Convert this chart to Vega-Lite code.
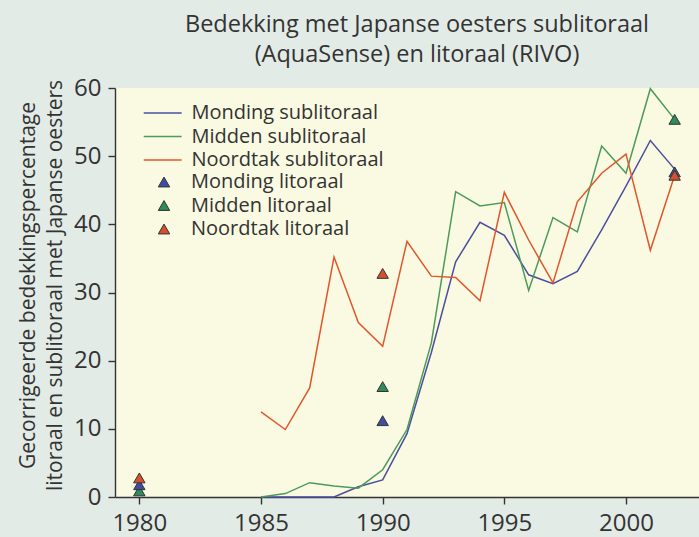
{
  "$schema": "https://vega.github.io/schema/vega-lite/v6.json",
  "width": 584,
  "height": 409,
  "autosize": {"type": "none"},
  "padding": {"left": 115, "top": 88, "right": 0, "bottom": 40},
  "background": "#e3ebe7",
  "title": {
    "text": ["Bedekking met  Japanse oesters sublitoraal", "(AquaSense) en litoraal (RIVO)"],
    "fontSize": 23.5,
    "font": "Open Sans",
    "fontWeight": "normal",
    "color": "#333333",
    "lineHeight": 30,
    "offset": 10,
    "dx": 10,
    "anchor": "middle"
  },
  "config": {
    "font": "Open Sans",
    "view": {"fill": "#fafae2", "stroke": null},
    "axis": {
      "domainColor": "#333333",
      "domainWidth": 1.4,
      "tickColor": "#333333",
      "tickWidth": 1.4,
      "tickSize": 7,
      "labelColor": "#333333",
      "labelFontSize": 24,
      "labelFont": "Open Sans",
      "titleFont": "Open Sans",
      "titleColor": "#333333",
      "titleFontWeight": "normal",
      "grid": false
    }
  },
  "datasets": {
    "sub": [
      {"year": 1985, "series": "Monding sublitoraal", "value": 0},
      {"year": 1986, "series": "Monding sublitoraal", "value": 0},
      {"year": 1987, "series": "Monding sublitoraal", "value": 0},
      {"year": 1988, "series": "Monding sublitoraal", "value": 0},
      {"year": 1989, "series": "Monding sublitoraal", "value": 1.5},
      {"year": 1990, "series": "Monding sublitoraal", "value": 2.5},
      {"year": 1991, "series": "Monding sublitoraal", "value": 9.3},
      {"year": 1992, "series": "Monding sublitoraal", "value": 21.2},
      {"year": 1993, "series": "Monding sublitoraal", "value": 34.5},
      {"year": 1994, "series": "Monding sublitoraal", "value": 40.3},
      {"year": 1995, "series": "Monding sublitoraal", "value": 38.4},
      {"year": 1996, "series": "Monding sublitoraal", "value": 32.6},
      {"year": 1997, "series": "Monding sublitoraal", "value": 31.3},
      {"year": 1998, "series": "Monding sublitoraal", "value": 33.1},
      {"year": 1999, "series": "Monding sublitoraal", "value": 39.2},
      {"year": 2000, "series": "Monding sublitoraal", "value": 45.6},
      {"year": 2001, "series": "Monding sublitoraal", "value": 52.3},
      {"year": 2002, "series": "Monding sublitoraal", "value": 48.1},
      {"year": 1985, "series": "Midden sublitoraal", "value": 0},
      {"year": 1986, "series": "Midden sublitoraal", "value": 0.5},
      {"year": 1987, "series": "Midden sublitoraal", "value": 2.1},
      {"year": 1988, "series": "Midden sublitoraal", "value": 1.6},
      {"year": 1989, "series": "Midden sublitoraal", "value": 1.3},
      {"year": 1990, "series": "Midden sublitoraal", "value": 4.0},
      {"year": 1991, "series": "Midden sublitoraal", "value": 9.9},
      {"year": 1992, "series": "Midden sublitoraal", "value": 22.6},
      {"year": 1993, "series": "Midden sublitoraal", "value": 44.8},
      {"year": 1994, "series": "Midden sublitoraal", "value": 42.7},
      {"year": 1995, "series": "Midden sublitoraal", "value": 43.2},
      {"year": 1996, "series": "Midden sublitoraal", "value": 30.3},
      {"year": 1997, "series": "Midden sublitoraal", "value": 41.0},
      {"year": 1998, "series": "Midden sublitoraal", "value": 38.9},
      {"year": 1999, "series": "Midden sublitoraal", "value": 51.5},
      {"year": 2000, "series": "Midden sublitoraal", "value": 47.5},
      {"year": 2001, "series": "Midden sublitoraal", "value": 59.9},
      {"year": 2002, "series": "Midden sublitoraal", "value": 55.4},
      {"year": 1985, "series": "Noordtak sublitoraal", "value": 12.5},
      {"year": 1986, "series": "Noordtak sublitoraal", "value": 9.9},
      {"year": 1987, "series": "Noordtak sublitoraal", "value": 16.0},
      {"year": 1988, "series": "Noordtak sublitoraal", "value": 35.2},
      {"year": 1989, "series": "Noordtak sublitoraal", "value": 25.6},
      {"year": 1990, "series": "Noordtak sublitoraal", "value": 22.1},
      {"year": 1991, "series": "Noordtak sublitoraal", "value": 37.5},
      {"year": 1992, "series": "Noordtak sublitoraal", "value": 32.4},
      {"year": 1993, "series": "Noordtak sublitoraal", "value": 32.2},
      {"year": 1994, "series": "Noordtak sublitoraal", "value": 28.8},
      {"year": 1995, "series": "Noordtak sublitoraal", "value": 44.7},
      {"year": 1996, "series": "Noordtak sublitoraal", "value": 37.7},
      {"year": 1997, "series": "Noordtak sublitoraal", "value": 31.4},
      {"year": 1998, "series": "Noordtak sublitoraal", "value": 43.3},
      {"year": 1999, "series": "Noordtak sublitoraal", "value": 47.5},
      {"year": 2000, "series": "Noordtak sublitoraal", "value": 50.3},
      {"year": 2001, "series": "Noordtak sublitoraal", "value": 36.2},
      {"year": 2002, "series": "Noordtak sublitoraal", "value": 47.2}
    ],
    "lit": [
      {"year": 1980, "series": "Midden litoraal", "value": 0.9},
      {"year": 1980, "series": "Monding litoraal", "value": 1.8},
      {"year": 1980, "series": "Noordtak litoraal", "value": 2.8},
      {"year": 1990, "series": "Monding litoraal", "value": 11.2},
      {"year": 1990, "series": "Midden litoraal", "value": 16.2},
      {"year": 1990, "series": "Noordtak litoraal", "value": 32.8},
      {"year": 2002, "series": "Midden litoraal", "value": 55.4},
      {"year": 2002, "series": "Monding litoraal", "value": 47.7},
      {"year": 2002, "series": "Noordtak litoraal", "value": 47.2}
    ]
  },
  "encoding": {
    "x": {
      "field": "year",
      "type": "quantitative",
      "scale": {"domain": [1979, 2003], "nice": false, "zero": false},
      "axis": {"values": [1980, 1985, 1990, 1995, 2000], "format": "d", "title": null, "labelPadding": 7}
    },
    "y": {
      "field": "value",
      "type": "quantitative",
      "scale": {"domain": [0, 60], "nice": false},
      "axis": {
        "values": [0, 10, 20, 30, 40, 50, 60],
        "title": ["Gecorrigeerde bedekkingspercentage", "litoraal en sublitoraal met Japanse oesters"],
        "titleFontSize": 21,
        "titleLineHeight": 27,
        "titlePadding": 8,
        "titleY": 197,
        "labelPadding": 7
      }
    }
  },
  "layer": [
    {
      "data": {"name": "sub"},
      "mark": {"type": "line", "strokeWidth": 1.5},
      "encoding": {
        "stroke": {
          "field": "series",
          "type": "nominal",
          "scale": {
            "domain": ["Monding sublitoraal", "Midden sublitoraal", "Noordtak sublitoraal"],
            "range": ["#4b4f9e", "#4c9a5c", "#e0562c"]
          },
          "legend": {
            "title": null,
            "orient": "none",
            "legendX": 37.7,
            "legendY": 15,
            "padding": 0,
            "symbolType": "M-3,0H3",
            "symbolSize": 160,
            "symbolStrokeWidth": 1.5,
            "rowPadding": 3.5,
            "labelOffset": 18.7,
            "labelFontSize": 20,
            "labelLimit": 400,
            "labelColor": "#333333",
            "labelFont": "Open Sans"
          }
        }
      }
    },
    {
      "data": {"name": "lit"},
      "mark": {"type": "point", "shape": "triangle-up", "filled": true, "opacity": 1, "size": 130, "stroke": "#333333", "strokeWidth": 1},
      "encoding": {
        "fill": {
          "field": "series",
          "type": "nominal",
          "scale": {
            "domain": ["Monding litoraal", "Midden litoraal", "Noordtak litoraal"],
            "range": ["#3d4ea2", "#2f8a5c", "#d4502e"]
          },
          "legend": {
            "title": null,
            "orient": "none",
            "legendX": 39,
            "legendY": 84,
            "padding": 0,
            "symbolType": "triangle-up",
            "symbolSize": 130,
            "symbolStrokeColor": "#333333",
            "symbolStrokeWidth": 1,
            "symbolOpacity": 1,
            "rowPadding": 3.5,
            "labelOffset": 17,
            "labelFontSize": 20,
            "labelLimit": 400,
            "labelColor": "#333333",
            "labelFont": "Open Sans"
          }
        }
      }
    }
  ]
}
